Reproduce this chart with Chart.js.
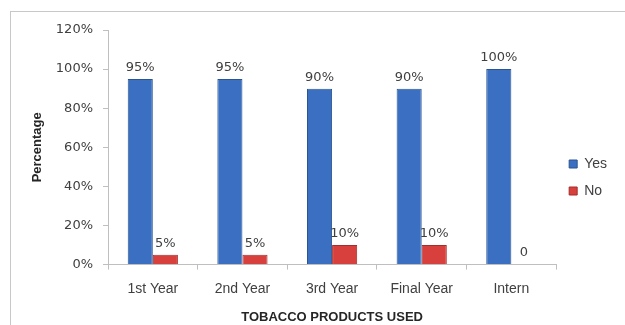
<!DOCTYPE html>
<html>
<head>
<meta charset="utf-8">
<script src="https://cdn.jsdelivr.net/npm/chart.js@4"></script>
<style>
  body { margin: 0; background: #fff; }
  #wrap { width: 625px; height: 325px; }
</style>
</head>
<body>
<div id="wrap"><canvas id="grafico"></canvas></div>
<script>
// dados do gráfico
const categorias = ['1st Year', '2nd Year', '3rd Year', 'Final Year', 'Intern'];
const valoresSim = [95, 95, 90, 90, 100];
const valoresNao = [5, 5, 10, 10, 0];
const ticksY = [0, 20, 40, 60, 80, 100, 120];

const corTexto = '#404040';

// moldura cinza em volta do gráfico
const moldura = {
    id: 'moldura',
    beforeDraw(chart) {
        const c = chart.ctx;
        c.save();
        c.strokeStyle = '#c8c8c8';
        c.lineWidth = 1;
        c.strokeRect(10.5, 11.5, 640, 340);
        c.restore();
    }
};

// rótulos em cima das barras
const rotulos = {
    id: 'rotulos',
    afterDatasetsDraw(chart) {
        const c = chart.ctx;
        c.save();
        c.font = '13px "DejaVu Sans"';
        c.fillStyle = corTexto;
        c.textAlign = 'center';
        c.textBaseline = 'bottom';
        chart.data.datasets.forEach((ds, i) => {
            chart.getDatasetMeta(i).data.forEach((bar, j) => {
                const v = ds.data[j];
                const txt = v === 0 ? '0' : v + '%';
                c.fillText(txt, bar.x, bar.y - 5);
            });
        });
        c.restore();
    }
};

const data = {
    labels: categorias,
    datasets: [
        {
            label: 'Yes',
            data: valoresSim,
            backgroundColor: '#3a6fc2',
            borderColor: '#2a558f',
            borderWidth: 1
        },
        {
            label: 'No',
            data: valoresNao,
            backgroundColor: '#d8403d',
            borderColor: '#a52d2b',
            borderWidth: 1
        }
    ]
};

const config = {
    type: 'bar',
    data: data,
    options: {
        responsive: true,
        maintainAspectRatio: false,
        animation: false,
        categoryPercentage: 0.56,
        barPercentage: 1,
        layout: { padding: { left: 30, right: 8, top: 30, bottom: 0 } },
        plugins: {
            legend: {
                position: 'right',
                labels: {
                    boxWidth: 8,
                    boxHeight: 8,
                    padding: 13,
                    color: corTexto,
                    font: { family: '"Liberation Sans"', size: 14 }
                }
            },
            tooltip: { enabled: false }
        },
        scales: {
            x: {
                grid: { display: true, drawOnChartArea: false, offset: true, tickLength: 5, color: '#bfbfbf' },
                border: { color: '#bfbfbf' },
                ticks: { color: corTexto, padding: 11, font: { family: '"Liberation Sans"', size: 14 } },
                title: {
                    display: true,
                    text: 'TOBACCO PRODUCTS USED',
                    color: '#262626',
                    padding: { top: 1, bottom: 0 },
                    font: { family: '"Liberation Sans"', size: 13, weight: 'bold' }
                }
            },
            y: {
                min: 0,
                max: 120,
                afterBuildTicks: (axis) => { axis.ticks = ticksY.map(v => ({ value: v })); },
                afterFit: (axis) => { axis.width = 78; },
                grid: { display: true, drawOnChartArea: false, tickLength: 5, color: '#bfbfbf' },
                border: { color: '#bfbfbf' },
                ticks: {
                    color: corTexto,
                    padding: 10,
                    font: { family: '"DejaVu Sans"', size: 13 },
                    callback: v => v + '%'
                },
                title: {
                    display: true,
                    text: 'Percentage',
                    color: '#262626',
                    padding: { top: 0, bottom: 0 },
                    font: { family: '"Liberation Sans"', size: 13, weight: 'bold' }
                }
            }
        }
    },
    plugins: [moldura, rotulos]
};

new Chart(document.getElementById('grafico'), config);
</script>
</body>
</html>
